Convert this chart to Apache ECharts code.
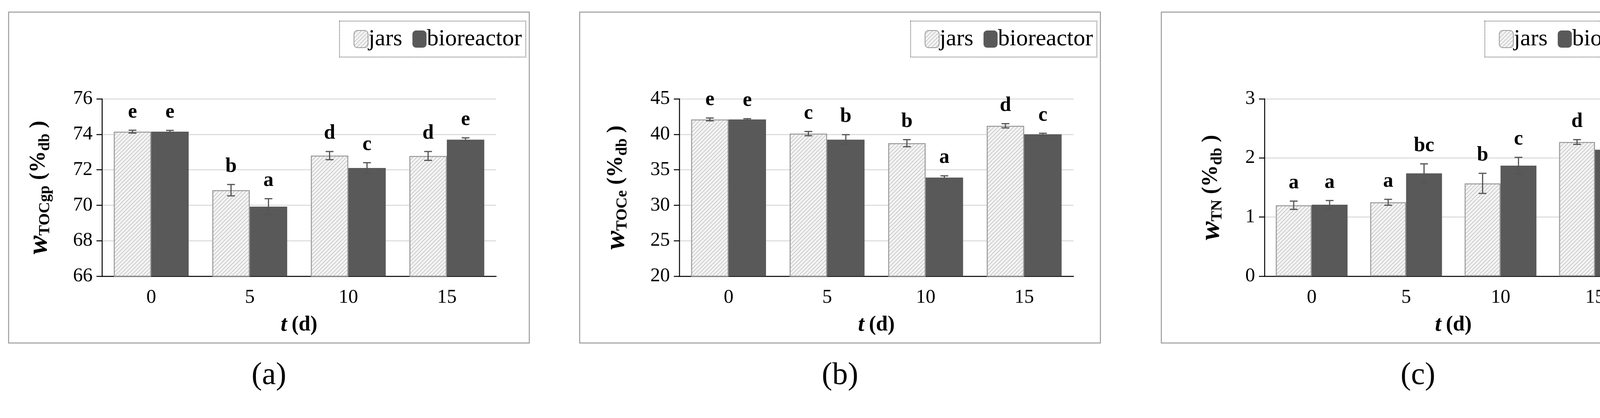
<!DOCTYPE html>
<html><head><meta charset="utf-8">
<script src="https://cdn.jsdelivr.net/npm/echarts@6/dist/echarts.min.js"></script>
<style>html,body{margin:0;padding:0;background:#fff}#c{width:4309px;height:1070px}</style>
</head><body><div id="c"></div>
<script>
const categories = ['0','5','10','15'];
const seriesNames = ['jars','bioreactor'];
// panel a: w_TOCgp
const aJars = [74.15, 70.85, 72.8, 72.78];
const aJarsErr = [0.08, 0.32, 0.23, 0.25];
const aBio = [74.15, 69.92, 72.1, 73.7];
const aBioErr = [0.07, 0.45, 0.3, 0.1];
const aJarsLetters = ['e','b','d','d'];
const aBioLetters = ['e','a','c','e'];
// panel b: w_TOCe
const bJars = [42.1, 40.1, 38.75, 41.2];
const bJarsErr = [0.2, 0.3, 0.5, 0.3];
const bBio = [42.1, 39.25, 33.9, 40.0];
const bBioErr = [0.1, 0.7, 0.25, 0.15];
const bJarsLetters = ['e','c','b','d'];
const bBioLetters = ['e','b','a','c'];
// panel c: w_TN
const cJars = [1.2, 1.25, 1.57, 2.27];
const cJarsErr = [0.07, 0.05, 0.17, 0.04];
const cBio = [1.21, 1.74, 1.87, 2.14];
const cBioErr = [0.07, 0.16, 0.14, 0.08];
const cJarsLetters = ['a','a','b','d'];
const cBioLetters = ['a','bc','c','d'];

const yRanges = [[66,76,2],[20,45,5],[0,3,1]];
const ySubs = ['TOCgp','TOCe','TN'];
const captions = ['(a)','(b)','(c)'];

const panels = [
  {jars:aJars, je:aJarsErr, bio:aBio, be:aBioErr, jl:aJarsLetters, bl:aBioLetters},
  {jars:bJars, je:bJarsErr, bio:bBio, be:bBioErr, jl:bJarsLetters, bl:bBioLetters},
  {jars:cJars, je:cJarsErr, bio:cBio, be:cBioErr, jl:cJarsLetters, bl:cBioLetters}
];

const FONT = '"Liberation Serif", "DejaVu Serif", serif';
const pc = document.createElement('canvas'); pc.width = 10; pc.height = 10;
const px = pc.getContext('2d');
px.fillStyle = '#f4f4f4'; px.fillRect(0,0,10,10);
px.strokeStyle = '#c4c4c4'; px.lineWidth = 1.6;
px.beginPath(); px.moveTo(0,10); px.lineTo(10,0); px.moveTo(-5,5); px.lineTo(5,-5); px.moveTo(5,15); px.lineTo(15,5); px.stroke();
const hatch = {image: pc, repeat: 'repeat'};
const bioColor = '#595959';

const frames = [[22,1355],[1484,2817],[2973,4287]];
const grids = [[261,1270],[1739,2748],[3237,4204]];

const chart = echarts.init(document.getElementById('c'));
const option = {grid:[],xAxis:[],yAxis:[],series:[],legend:[],graphic:[],animation:false};

panels.forEach((p,i)=>{
  const [gl,gr] = grids[i];
  option.grid.push({left:gl, width:gr-gl, top:253, height:454});
  option.xAxis.push({type:'category', gridIndex:i, data:categories,
    axisLine:{lineStyle:{color:'#000',width:2.5}},
    axisTick:{length:18,lineStyle:{color:'#000',width:2.5}},
    axisLabel:{fontFamily:FONT,fontSize:50,color:'#000',margin:30},
    name:'{i|t}{n|(d)}', nameLocation:'middle', nameGap:96,
    nameTextStyle:{rich:{i:{fontFamily:FONT,fontStyle:'italic',fontWeight:'bold',fontSize:58,color:'#000',padding:[0,12,0,0]},
      n:{fontFamily:FONT,fontWeight:'bold',fontSize:54,color:'#000'}}}});
  const [mn,mx,iv] = yRanges[i];
  option.yAxis.push({type:'value', gridIndex:i, min:mn, max:mx, interval:iv,
    axisLine:{show:true,lineStyle:{color:'#000',width:2.5}},
    axisTick:{show:true,length:14,lineStyle:{color:'#000',width:2.5}},
    splitLine:{lineStyle:{color:'#d9d9d9',width:2.5}},
    axisLabel:{fontFamily:FONT,fontSize:50,color:'#000',margin:24},
    name:'{w|w}{s|'+ySubs[i]+'}{p|(%}{s|db}{p|)}', nameLocation:'middle', nameRotate:90, nameGap:i===2?100:125,
    nameTextStyle:{rich:{w:{fontFamily:FONT,fontStyle:'italic',fontWeight:'bold',fontSize:72,color:'#000'},
      s:{fontFamily:FONT,fontWeight:'bold',fontSize:40,color:'#000',verticalAlign:'bottom',padding:[18,0,0,0]},
      p:{fontFamily:FONT,fontWeight:'bold',fontSize:56,color:'#000',padding:[0,0,0,14]}}}});
  option.series.push({name:'jars', type:'bar', xAxisIndex:i, yAxisIndex:i, data:p.jars,
    barWidth:'38%', barGap:'0%', itemStyle:{color:hatch, borderColor:'#999', borderWidth:2.5}});
  option.series.push({name:'bioreactor', type:'bar', xAxisIndex:i, yAxisIndex:i, data:p.bio,
    barWidth:'38%', barGap:'0%', itemStyle:{color:bioColor}});
  [['jars',p.jars,p.je,p.jl,-1],['bioreactor',p.bio,p.be,p.bl,1]].forEach(([nm,vals,errs,lets,side])=>{
    option.series.push({type:'custom', xAxisIndex:i, yAxisIndex:i, z:5,
      data: vals.map((v,k)=>[k, v, errs[k]]),
      renderItem:(params, api)=>{
        const k = api.value(0), v = api.value(1), e = api.value(2);
        const bw = api.size([1,0])[0];
        const c = api.coord([k, v]);
        const x = c[0] + side*bw*0.19;
        const top = api.coord([k, v+e])[1], bot = api.coord([k, v-e])[1];
        const st = {stroke:'#555', lineWidth:3};
        return {type:'group', children:[
          {type:'line', shape:{x1:x,y1:top,x2:x,y2:bot}, style:st},
          {type:'line', shape:{x1:x-10,y1:top,x2:x+10,y2:top}, style:st},
          {type:'line', shape:{x1:x-10,y1:bot,x2:x+10,y2:bot}, style:st},
          {type:'text', x:x, y:top-20, style:{text:lets[k], fontFamily:FONT, fontWeight:'bold', fontSize:52, fill:'#000', align:'center', verticalAlign:'bottom'}}
        ]};
      }});
  });
  const [fl,fr] = frames[i];
  option.legend.push({data:seriesNames, right:4309-fr+9, top:54, orient:'horizontal',
    itemWidth:36, itemHeight:44, itemGap:26, padding:[16,10,16,36],
    borderColor:'#555', borderWidth:2, borderType:'dotted',
    textStyle:{fontFamily:FONT, fontSize:60, color:'#000', padding:[0,0,0,-4]}});
  option.graphic.push({type:'rect', shape:{x:fl,y:31,width:fr-fl,height:847}, style:{fill:'none',stroke:'#999',lineWidth:2.5}, silent:true, z:-10});
  option.graphic.push({type:'text', x:(fl+fr)/2, y:962, style:{text:captions[i], fontFamily:FONT, fontSize:80, fill:'#000', align:'center', verticalAlign:'middle'}});
});
chart.setOption(option);
</script></body></html>
